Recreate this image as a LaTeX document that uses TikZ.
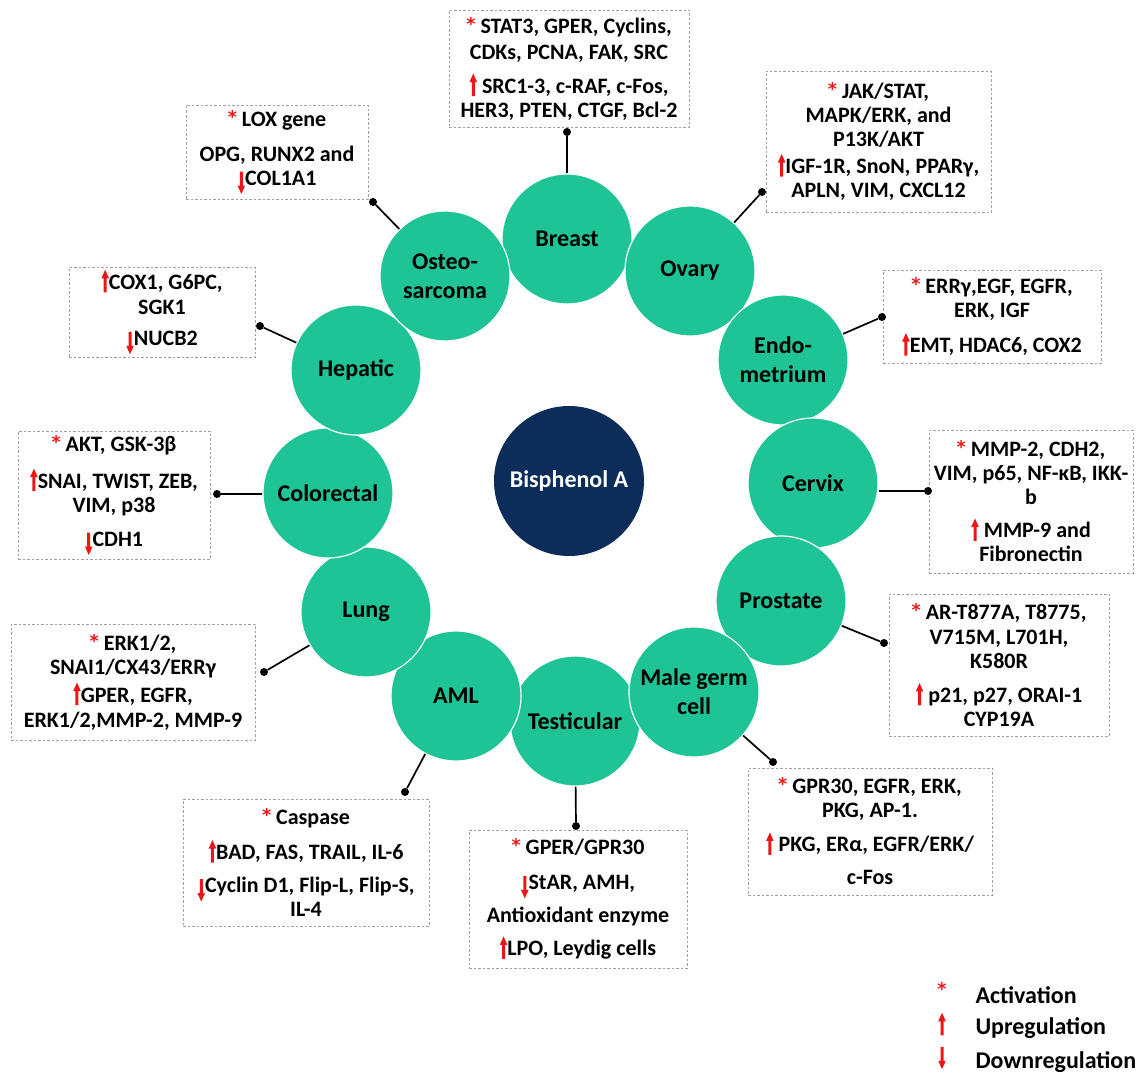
\documentclass[tikz,border=0pt]{standalone}
\usepackage{graphicx}
\usepackage{fontspec}
\setmainfont{Carlito}
\newfontfamily\symfont{DejaVu Sans}
\definecolor{organgreen}{RGB}{30,196,150}
\definecolor{bpanavy}{RGB}{12,44,90}
\definecolor{markred}{RGB}{236,22,22}
\definecolor{boxgray}{RGB}{160,160,160}
\newcommand{\myact}{\raisebox{3pt}{\textcolor{markred}{\scalebox{0.8}{\symfont\bfseries *}}}}
\newcommand{\myup}{\tikz[x=1pt,y=1pt,baseline=3pt]\fill[markred] (-1.5,0) -- (-1.5,14) -- (-3.8,14) -- (0,22.5) -- (3.8,14) -- (1.5,14) -- (1.5,0) -- cycle;}
\newcommand{\mydn}{\tikz[x=1pt,y=1pt,baseline=9pt]\fill[markred] (-1.5,22.5) -- (-1.5,8.5) -- (-3.8,8.5) -- (0,0) -- (3.8,8.5) -- (1.5,8.5) -- (1.5,22.5) -- cycle;}
\begin{document}
\begin{tikzpicture}[x=1pt,y=-1pt,
  organ/.style={circle, fill=organgreen, draw=white, line width=1.2pt, minimum size=130pt, inner sep=0pt, align=center, font=\bfseries\fontsize{24}{29}\selectfont},
  bpastyle/.style={circle, fill=bpanavy, minimum size=150pt, inner sep=0pt, text=white, font=\bfseries\fontsize{24}{29}\selectfont},
  infobox/.style={draw=boxgray, dash pattern=on 2.5pt off 2pt, line width=0.9pt, align=center, inner sep=0pt, font=\bfseries\fontsize{22}{24}\selectfont},
  link/.style={line width=1.7pt, black},
  linkdot/.style={circle, fill=black, inner sep=0pt, minimum size=8pt},
  legendtext/.style={anchor=west, font=\bfseries\fontsize{24}{27}\selectfont},
  legendmark/.style={font=\bfseries\fontsize{22}{26}\selectfont}]

\useasboundingbox (0,0) rectangle (1140,1081);

% central compound
\node[bpastyle] (bpa) at (569,481) {Bisphenol A};

% organ circles
\node[organ] (cBr) at (567,239) {Breast};
\node[organ] (cOv) at (690,271) {Ovary};
\node[organ] (cEn) at (783,360) {Endo-\\metrium};
\node[organ] (cCe) at (813,483) {Cervix};
\node[organ] (cPr) at (781,601) {Prostate};
\node[organ] (cTe) at (575,721) {Testicular};
\node[organ] (cMg) at (694,692) {Male germ\\cell};
\node[organ] (cAm) at (456,696) {AML};
\node[organ] (cLu) at (366,612) {Lung};
\node[organ] (cCo) at (328,493) {Colorectal};
\node[organ] (cHe) at (356,370) {Hepatic};
\node[organ] (cOs) at (445,276) {Osteo-\\sarcoma};

% info boxes
\node[infobox, minimum width=240, minimum height=117] (bBr) at (569,68.5)
  {\myact\ STAT3, GPER, Cyclins,\\[2pt] CDKs, PCNA, FAK, SRC\\[10pt] \myup\ SRC1-3, c-RAF, c-Fos,\\ HER3, PTEN, CTGF, Bcl-2};
\node[infobox, minimum width=225, minimum height=141] (bOv) at (878.5,141.5)
  {\myact\ JAK/STAT,\\ MAPK/ERK, and\\ P13K/AKT\\[3pt] \myup IGF-1R, SnoN, PPARγ,\\ APLN, VIM, CXCL12};
\node[infobox, minimum width=218, minimum height=93] (bEn) at (992,316.5)
  {\myact\ ERRγ,EGF, EGFR,\\ ERK, IGF\\[11pt] \myup EMT, HDAC6, COX2};
\node[infobox, minimum width=204, minimum height=143] (bCe) at (1031,501.5)
  {\myact\ MMP-2, CDH2,\\ VIM, p65, NF-κB, IKK-\\ b\\[9pt] \myup\ MMP-9 and\\ Fibronectin};
\node[infobox, minimum width=220, minimum height=142] (bPr) at (999,665)
  {\myact\ AR-T877A, T8775,\\[1pt] V715M, L701H,\\ K580R\\[10pt] \myup\ p21, p27, ORAI-1\\ CYP19A};
\node[infobox, minimum width=244, minimum height=127] (bMg) at (870,831.5)
  {\myact\ GPR30, EGFR, ERK,\\ PKG, AP-1.\\[10pt] \myup\ PKG, ERα, EGFR/ERK/\\[9pt] c-Fos};
\node[infobox, minimum width=218, minimum height=138] (bTe) at (578,899)
  {\myact\ GPER/GPR30\\[11pt] \mydn StAR, AMH,\\[8pt] Antioxidant enzyme\\[9pt] \myup LPO, Leydig cells};
\node[infobox, minimum width=246, minimum height=127] (bAm) at (306,862.5)
  {\myact\ Caspase\\[11pt] \myup BAD, FAS, TRAIL, IL-6\\[9pt] \mydn Cyclin D1, Flip-L, Flip-S,\\ IL-4};
\node[infobox, minimum width=244, minimum height=116] (bLu) at (133,682)
  {\myact\ ERK1/2,\\ SNAI1/CX43/ERRγ\\[4pt] \myup GPER, EGFR,\\[1pt] ERK1/2,MMP-2, MMP-9};
\node[infobox, minimum width=192, minimum height=128] (bCo) at (114,495)
  {\myact\ AKT, GSK-3β\\[13pt] \myup SNAI, TWIST, ZEB,\\ VIM, p38\\[10pt] \mydn CDH1};
\node[infobox, minimum width=186, minimum height=90] (bHe) at (162,312)
  {\myup COX1, G6PC,\\[1pt] SGK1\\[7pt] \mydn NUCB2};
\node[infobox, minimum width=182, minimum height=94] (bOs) at (277,152)
  {\myact\ LOX gene\\[11pt] OPG, RUNX2 and\\ \mydn COL1A1};

% connector dots
\node[linkdot] (dBr) at (567,132) {};
\node[linkdot] (dOv) at (762,192) {};
\node[linkdot] (dEn) at (882,317) {};
\node[linkdot] (dCe) at (928,491) {};
\node[linkdot] (dPr) at (884,643) {};
\node[linkdot] (dMg) at (773,762) {};
\node[linkdot] (dTe) at (576,826) {};
\node[linkdot] (dAm) at (405,792) {};
\node[linkdot] (dLu) at (264,672) {};
\node[linkdot] (dCo) at (217,494) {};
\node[linkdot] (dHe) at (260,326) {};
\node[linkdot] (dOs) at (373,202) {};

% connectors
\draw[link] (cBr) -- (dBr);
\draw[link] (cOv) -- (dOv);
\draw[link] (cEn) -- (dEn);
\draw[link] (cCe.east |- dCe) -- (dCe);
\draw[link] (cPr) -- (dPr);
\draw[link] (cMg) -- (dMg);
\draw[link] (cTe) -- (dTe);
\draw[link] (cAm) -- (dAm);
\draw[link] (cLu) -- (dLu);
\draw[link] (cCo.west |- dCo) -- (dCo);
\draw[link] (cHe) -- (dHe);
\draw[link] (cOs) -- (dOs);

% legend
\node[legendmark] (lgAct) at (942,990) {\myact};
\node[legendmark] (lgUp) at (942,1024) {\myup};
\node[legendmark] (lgDn) at (942,1058) {\mydn};
\node[legendtext] (lgActT) at (972,995) {Activation};
\node[legendtext] (lgUpT) at (972,1028) {Upregulation};
\node[legendtext] (lgDnT) at (972,1062) {Downregulation};
\end{tikzpicture}
\end{document}
